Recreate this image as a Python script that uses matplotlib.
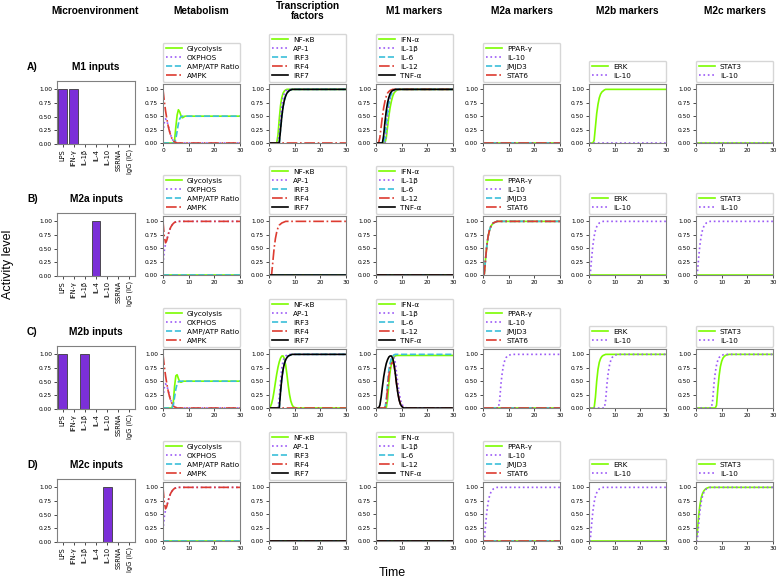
import matplotlib.pyplot as plt
import numpy as np

# shared time grid of the simulations
T = [0, 0.5, 1, 1.5, 2, 2.5, 3, 3.5, 4, 4.5, 5, 5.5, 6,
     6.5, 7, 7.5, 8, 8.5, 9, 9.5, 10, 10.5, 11, 11.5, 12, 13, 14, 15, 20, 25, 30]

ZERO = [0.0] * len(T)

# --- M1 inputs
A_GLYCO = [0, 0, 0, 0, 0, 0, 0, 0, 0, 0.05, 0.3, 0.52, 0.62,
           0.58, 0.51, 0.47, 0.48, 0.5, 0.5, 0.5, 0.5, 0.5, 0.5, 0.5, 0.5, 0.5, 0.5, 0.5, 0.5, 0.5, 0.5]
A_OXPHOS = [0.2, 0.38, 0.45, 0.42, 0.33, 0.24, 0.15, 0.08, 0.04, 0.02, 0.01, 0, 0,
            0, 0, 0, 0, 0, 0, 0, 0, 0, 0, 0, 0, 0, 0, 0, 0, 0, 0]
A_AMP = [0, 0, 0, 0, 0, 0, 0, 0, 0, 0, 0.08, 0.22, 0.36,
         0.45, 0.49, 0.5, 0.5, 0.5, 0.5, 0.5, 0.5, 0.5, 0.5, 0.5, 0.5, 0.5, 0.5, 0.5, 0.5, 0.5, 0.5]
A_AMPK = [1.0, 0.78, 0.6, 0.45, 0.32, 0.22, 0.14, 0.08, 0.04, 0.02, 0.01, 0, 0,
          0, 0, 0, 0, 0, 0, 0, 0, 0, 0, 0, 0, 0, 0, 0, 0, 0, 0]
A_NFKB = [0, 0, 0, 0, 0, 0, 0, 0.15, 0.45, 0.7, 0.85, 0.93, 0.97,
          0.99, 1, 1, 1, 1, 1, 1, 1, 1, 1, 1, 1, 1, 1, 1, 1, 1, 1]
A_AP1 = [0, 0, 0, 0, 0, 0, 0, 0, 0.2, 0.5, 0.72, 0.86, 0.93,
         0.97, 0.99, 1, 1, 1, 1, 1, 1, 1, 1, 1, 1, 1, 1, 1, 1, 1, 1]
A_IRF7 = [0, 0, 0, 0, 0, 0, 0, 0, 0, 0.25, 0.5, 0.68, 0.8,
          0.88, 0.93, 0.96, 0.98, 0.99, 1, 1, 1, 1, 1, 1, 1, 1, 1, 1, 1, 1, 1]
A_IL12 = [0, 0, 0, 0.1, 0.3, 0.5, 0.66, 0.78, 0.87, 0.93, 0.96, 0.98, 0.99,
          1, 1, 1, 1, 1, 1, 1, 1, 1, 1, 1, 1, 1, 1, 1, 1, 1, 1]
A_TNF = [0, 0, 0, 0, 0, 0, 0.15, 0.4, 0.6, 0.75, 0.85, 0.92, 0.96,
         0.98, 0.99, 1, 1, 1, 1, 1, 1, 1, 1, 1, 1, 1, 1, 1, 1, 1, 1]
A_IL6 = [0, 0, 0, 0, 0, 0, 0, 0.15, 0.4, 0.6, 0.75, 0.85, 0.92,
         0.96, 0.98, 0.99, 1, 1, 1, 1, 1, 1, 1, 1, 1, 1, 1, 1, 1, 1, 1]
A_IL1B = [0, 0, 0, 0, 0, 0, 0, 0, 0.2, 0.48, 0.68, 0.82, 0.9,
          0.95, 0.97, 0.99, 1, 1, 1, 1, 1, 1, 1, 1, 1, 1, 1, 1, 1, 1, 1]
A_IFNA = [0, 0, 0, 0, 0, 0, 0, 0, 0.1, 0.3, 0.5, 0.66, 0.78,
          0.87, 0.93, 0.96, 0.98, 0.99, 1, 1, 1, 1, 1, 1, 1, 1, 1, 1, 1, 1, 1]
A_ERK = [0, 0, 0, 0, 0.05, 0.3, 0.55, 0.72, 0.84, 0.91, 0.95, 0.97, 0.99,
         1, 1, 1, 1, 1, 1, 1, 1, 1, 1, 1, 1, 1, 1, 1, 1, 1, 1]

# --- M2a / M2c inputs
B_AMPK = [1.0, 0.72, 0.6, 0.65, 0.75, 0.83, 0.89, 0.93, 0.96, 0.98, 0.99, 1, 1,
          1, 1, 1, 1, 1, 1, 1, 1, 1, 1, 1, 1, 1, 1, 1, 1, 1, 1]
B_OXPHOS = [0.2, 0.45, 0.58, 0.66, 0.75, 0.83, 0.89, 0.93, 0.96, 0.98, 0.99, 1, 1,
            1, 1, 1, 1, 1, 1, 1, 1, 1, 1, 1, 1, 1, 1, 1, 1, 1, 1]
B_IRF4 = [0, 0, 0, 0.25, 0.5, 0.68, 0.8, 0.88, 0.93, 0.95, 0.97, 0.98, 0.99,
          1, 1, 1, 1, 1, 1, 1, 1, 1, 1, 1, 1, 1, 1, 1, 1, 1, 1]
M2_RISE = [0, 0.02, 0.3, 0.55, 0.72, 0.83, 0.9, 0.94, 0.97, 0.98, 0.99, 1, 1,
           1, 1, 1, 1, 1, 1, 1, 1, 1, 1, 1, 1, 1, 1, 1, 1, 1, 1]
D_STAT3 = [0, 0.15, 0.45, 0.66, 0.8, 0.88, 0.93, 0.96, 0.98, 0.99, 1, 1, 1,
           1, 1, 1, 1, 1, 1, 1, 1, 1, 1, 1, 1, 1, 1, 1, 1, 1, 1]

# --- M2b inputs
C_GLYCO = [0, 0, 0, 0, 0, 0, 0, 0, 0.1, 0.4, 0.6, 0.62, 0.55,
           0.49, 0.48, 0.49, 0.5, 0.5, 0.5, 0.5, 0.5, 0.5, 0.5, 0.5, 0.5, 0.5, 0.5, 0.5, 0.5, 0.5, 0.5]
C_AMP = [0, 0, 0, 0, 0, 0, 0, 0, 0.05, 0.2, 0.35, 0.45, 0.49,
         0.5, 0.5, 0.5, 0.5, 0.5, 0.5, 0.5, 0.5, 0.5, 0.5, 0.5, 0.5, 0.5, 0.5, 0.5, 0.5, 0.5, 0.5]
C_NFKB = [0, 0.02, 0.08, 0.18, 0.32, 0.48, 0.63, 0.76, 0.86, 0.93, 0.97, 0.97, 0.92,
          0.8, 0.62, 0.42, 0.25, 0.13, 0.06, 0.02, 0.01, 0, 0, 0, 0, 0, 0, 0, 0, 0, 0]
C_AP1 = [0, 0, 0, 0, 0, 0, 0, 0, 0.2, 0.5, 0.75, 0.88, 0.94,
         0.97, 0.99, 1, 1, 1, 1, 1, 1, 1, 1, 1, 1, 1, 1, 1, 1, 1, 1]
C_IRF7 = [0, 0, 0, 0, 0, 0, 0, 0, 0, 0.3, 0.55, 0.72, 0.83,
          0.9, 0.94, 0.97, 0.98, 0.99, 1, 1, 1, 1, 1, 1, 1, 1, 1, 1, 1, 1, 1]
C_TNF = [0, 0, 0, 0.05, 0.2, 0.4, 0.58, 0.72, 0.83, 0.9, 0.95, 0.97, 0.97,
         0.93, 0.83, 0.65, 0.45, 0.28, 0.15, 0.07, 0.03, 0.01, 0, 0, 0, 0, 0, 0, 0, 0, 0]
C_IL12 = [0, 0, 0, 0, 0, 0, 0, 0, 0.1, 0.35, 0.6, 0.75, 0.83,
          0.85, 0.8, 0.65, 0.46, 0.29, 0.16, 0.08, 0.03, 0.01, 0, 0, 0, 0, 0, 0, 0, 0, 0]
C_IL1B = [0, 0, 0, 0, 0, 0, 0, 0, 0.1, 0.4, 0.65, 0.8, 0.9,
          0.95, 0.95, 0.85, 0.66, 0.46, 0.29, 0.16, 0.08, 0.04, 0.02, 0.01, 0, 0, 0, 0, 0, 0, 0]
C_IL6 = [0, 0, 0, 0, 0, 0, 0, 0, 0.15, 0.45, 0.7, 0.84, 0.92,
         0.97, 0.99, 1, 1, 1, 1, 1, 1, 1, 1, 1, 1, 1, 1, 1, 1, 1, 1]
C_IFNA = [0, 0, 0, 0, 0, 0, 0, 0, 0, 0.15, 0.45, 0.68, 0.82,
          0.9, 0.95, 0.97, 0.98, 0.98, 0.98, 0.98, 0.98, 0.98, 0.98, 0.98, 0.98, 0.98, 0.98, 0.98, 0.98,
          0.98, 0.98]
C_IL10 = [0, 0, 0, 0, 0, 0, 0, 0, 0, 0, 0, 0, 0,
          0.15, 0.45, 0.66, 0.8, 0.89, 0.94, 0.97, 0.98, 0.99, 1, 1, 1, 1, 1, 1, 1, 1, 1]
C_ERK = [0, 0, 0, 0, 0, 0.2, 0.5, 0.72, 0.85, 0.92, 0.96, 0.98, 0.99,
         1, 1, 1, 1, 1, 1, 1, 1, 1, 1, 1, 1, 1, 1, 1, 1, 1, 1]
C_STAT3 = [0, 0, 0, 0, 0, 0, 0, 0, 0, 0, 0, 0, 0,
           0, 0, 0, 0.05, 0.35, 0.6, 0.77, 0.87, 0.93, 0.96, 0.98, 0.99, 1, 1, 1, 1, 1, 1]

INPUT_NAMES = ["LPS", "IFN-γ", "IL-1β", "IL-4", "IL-10", "SSRNA", "IgG (IC)"]
A_INPUTS = [1, 1, 0, 0, 0, 0, 0]
B_INPUTS = [0, 0, 0, 1, 0, 0, 0]
C_INPUTS = [1, 0, 1, 0, 0, 0, 0]
D_INPUTS = [0, 0, 0, 0, 1, 0, 0]

ROW_TAGS = ["A)", "B)", "C)", "D)"]
ROW_TITLES = ["M1 inputs", "M2a inputs", "M2b inputs", "M2c inputs"]
COL_TITLES = ["Microenvironment", "Metabolism", "Transcription\nfactors", "M1 markers",
              "M2a markers", "M2b markers", "M2c markers"]

MET_LABELS = ["Glycolysis", "OXPHOS", "AMP/ATP Ratio", "AMPK"]
TF_LABELS = ["NF-κB", "AP-1", "IRF3", "IRF4", "IRF7"]
M1_LABELS = ["IFN-α", "IL-1β", "IL-6", "IL-12", "TNF-α"]
M2A_LABELS = ["PPAR-γ", "IL-10", "JMJD3", "STAT6"]
M2B_LABELS = ["ERK", "IL-10"]
M2C_LABELS = ["STAT3", "IL-10"]

MET_ROWS = [[A_GLYCO, A_OXPHOS, A_AMP, A_AMPK], [ZERO, B_OXPHOS, ZERO, B_AMPK],
            [C_GLYCO, A_OXPHOS, C_AMP, A_AMPK], [ZERO, B_OXPHOS, ZERO, B_AMPK]]
TF_ROWS = [[A_NFKB, A_AP1, A_IRF7, ZERO, A_IRF7], [ZERO, ZERO, ZERO, B_IRF4, ZERO],
           [C_NFKB, C_AP1, C_IRF7, ZERO, C_IRF7], [ZERO, ZERO, ZERO, ZERO, ZERO]]
M1_ROWS = [[A_IFNA, A_IL1B, A_IL6, A_IL12, A_TNF], [ZERO, ZERO, ZERO, ZERO, ZERO],
           [C_IFNA, C_IL1B, C_IL6, C_IL12, C_TNF], [ZERO, ZERO, ZERO, ZERO, ZERO]]
M2A_ROWS = [[ZERO, ZERO, ZERO, ZERO], [M2_RISE, M2_RISE, M2_RISE, M2_RISE],
            [ZERO, C_IL10, ZERO, ZERO], [ZERO, M2_RISE, ZERO, ZERO]]
M2B_ROWS = [[A_ERK, ZERO], [ZERO, M2_RISE], [C_ERK, C_IL10], [ZERO, M2_RISE]]
M2C_ROWS = [[ZERO, ZERO], [ZERO, M2_RISE], [C_STAT3, C_IL10], [D_STAT3, M2_RISE]]

# colour / dash per series position inside a panel
COLORS = ["#7CFC00", "#9B59F6", "#3BBFD9", "#DD3B30", "black"]
DASHES = ["-", ":", "--", "-.", "-"]

W, H = 779, 581
COL_X = [57, 163, 269, 376, 483, 589, 696]
ROW_Y = [84, 216, 349, 482]
AX_W, AX_H = 77, 60
HEAD = "Liberation Sans"

fig = plt.figure(figsize=(W / 100, H / 100), dpi=100)


def px_axes(x, y, w, h):
    return fig.add_axes([x / W, 1 - (y + h) / H, w / W, h / H])


def style(ax):
    ax.tick_params(labelsize=4.2, length=2, width=0.5, pad=1.5)
    for s in ax.spines.values():
        s.set_color("#808080")
        s.set_linewidth(0.8)
    ax.set_yticks([0, 0.25, 0.5, 0.75, 1.0])
    ax.yaxis.set_major_formatter(plt.FormatStrFormatter("%.2f"))


inputs = [A_INPUTS, B_INPUTS, C_INPUTS, D_INPUTS]
columns = [(MET_LABELS, MET_ROWS), (TF_LABELS, TF_ROWS), (M1_LABELS, M1_ROWS),
           (M2A_LABELS, M2A_ROWS), (M2B_LABELS, M2B_ROWS), (M2C_LABELS, M2C_ROWS)]

for r, y in enumerate(ROW_Y):
    # microenvironment bars
    ax = px_axes(COL_X[0], y - 3, 78, AX_H + 3)
    ax.bar(np.arange(len(INPUT_NAMES)), inputs[r], width=0.8, color="#7B2FD8",
           edgecolor="#3a3a3a", linewidth=0.6)
    ax.set_xlim(-0.5, len(INPUT_NAMES) - 0.5)
    ax.set_ylim(0, 1.15)
    ax.set_xticks(np.arange(len(INPUT_NAMES)))
    ax.set_xticklabels(INPUT_NAMES, rotation=90)
    style(ax)
    ax.tick_params(axis="x", labelsize=4.8)
    fig.text(27 / W, 1 - (y - 17) / H, ROW_TAGS[r], family=HEAD, weight="bold",
             fontsize=7.3, va="center")
    fig.text(96 / W, 1 - (y - 17) / H, ROW_TITLES[r], family=HEAD, weight="bold",
             fontsize=7.3, va="center", ha="center")

    for c, (labels, rows) in enumerate(columns):
        ax = px_axes(COL_X[c + 1], y, AX_W, AX_H - 1)
        for k, (lab, vals) in enumerate(zip(labels, rows[r])):
            ax.plot(T, vals, color=COLORS[k], linestyle=DASHES[k], lw=1.2, label=lab)
        ax.set_xlim(0, 30)
        ax.set_ylim(0, 1.1)
        ax.set_xticks([0, 10, 20, 30])
        style(ax)
        ax.legend(loc="lower left", bbox_to_anchor=(0, 1.04, 1, 0.2), mode="expand",
                  borderaxespad=0, fontsize=5.2, handlelength=2.2, handletextpad=0.7,
                  borderpad=0.4, labelspacing=0.4)

for c, title in enumerate(COL_TITLES):
    cx = COL_X[c] + AX_W / 2
    fig.text(cx / W, 1 - 11 / H, title, family=HEAD, weight="bold", fontsize=7.3,
             ha="center", va="center", linespacing=1.1)

fig.text(8 / W, 1 - 264 / H, "Activity level", family=HEAD, fontsize=9,
         rotation=90, ha="center", va="center")
fig.text(392 / W, 1 - 573 / H, "Time", family=HEAD, fontsize=9, ha="center", va="center")

fig.savefig("out.png", dpi=100)
